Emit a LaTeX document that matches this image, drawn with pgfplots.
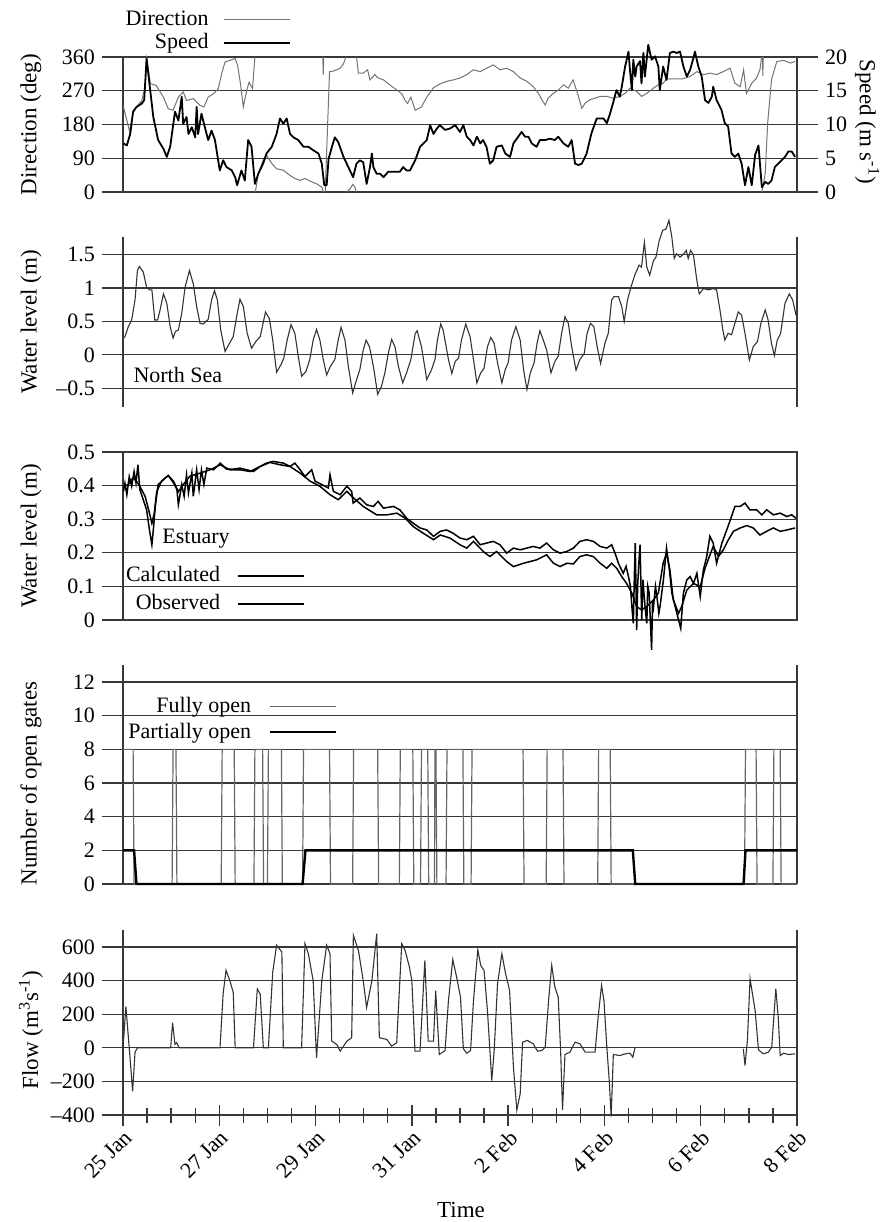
\documentclass[border=0pt]{standalone}
\usepackage{fontspec}
\setmainfont{Liberation Serif}
\usepackage{pgfplots}
\pgfplotsset{compat=1.18}

\definecolor{gridc}{gray}{0.22}
\newcommand{\tickfont}{\fontsize{11}{12.5}\selectfont}
\newcommand{\labfont}{\fontsize{11.5}{13}\selectfont}

\pgfplotsset{
  legend image code/.code={\draw[#1] (0pt,0pt) -- (33pt,0pt);},
  panel/.style={
    scale only axis, width=337pt,
    xmin=0, xmax=14, clip=false, no markers,
    axis line style={gridc, line width=0.65pt, -},
    ymajorgrids, grid style={gridc, line width=0.65pt},
    tick align=outside, ytick pos=left,
    major tick length=10.5pt,
    tick style={gridc, line width=0.65pt},
    tick label style={font=\tickfont},
    label style={font=\labfont},
    xtick=\empty,
    ylabel style={at={(axis description cs:-0.1365,0.5)}, anchor=center},
    legend plot pos=right,
    legend cell align=right,
    legend style={draw=none, fill=none, font=\tickfont, inner sep=0pt,
      nodes={inner sep=1pt, text height=1.6ex, text depth=0.3ex}},
  },
  dirline/.style={black!55, line width=0.5pt},
  speedline/.style={black, line width=0.9pt, line join=round},
  nsline/.style={black!80, line width=0.55pt},
  calcline/.style={black, line width=0.75pt},
  obsline/.style={black, line width=0.75pt},
  fullline/.style={black!60, line width=0.6pt},
  partline/.style={black, line width=1.2pt},
  flowline/.style={black!80, line width=0.55pt},
}

\begin{document}
\begin{tikzpicture}
\path[use as bounding box] (0,0) rectangle (442.5pt,-611pt);

% ---- wind direction and speed
\begin{axis}[panel, at={(61.5pt,-96pt)}, anchor=south west, height=67.5pt,
  ymin=0, ymax=360, ytick={0,90,180,270,360}, yticklabels={0,90,180,270,360},
  ylabel={Direction (deg)}, unbounded coords=jump]
\addplot[dirline] coordinates {
(0.01,227)(0.08,191)(0.14,160)(0.20,209)(0.28,227)(0.39,244)(0.46,280)(0.49,356)(0.57,289)(0.69,284)
(0.84,253)(0.94,222)(1.04,218)(1.15,253)(1.25,267)(1.32,244)(1.46,249)(1.60,231)(1.68,227)(1.77,253)
(1.88,262)(1.98,276)(2.05,316)(2.12,347)(2.22,351)(2.33,356)(2.38,338)(2.44,289)(2.50,227)(2.57,271)
(2.62,293)(2.69,276)(2.74,360)(2.745,nan)
(2.75,0)(2.81,49)(2.91,84)(2.98,98)(3.09,76)(3.19,62)(3.33,58)(3.47,44)(3.57,36)(3.68,31)(3.78,36)
(3.92,27)(4.02,22)(4.13,13)(4.16,0)(4.155,nan)
(4.15,360)(4.16,313)(4.17,360)(4.18,nan)
(4.20,0)(4.29,321)(4.33,321)(4.44,326)(4.51,330)(4.58,342)(4.63,360)(4.64,nan)
(4.65,0)(4.72,9)(4.77,20)(4.82,13)(4.84,0)(4.845,nan)
(4.85,360)(4.89,317)(4.99,317)(5.08,326)(5.13,299)(5.23,313)(5.30,304)(5.41,299)(5.55,285)(5.69,272)
(5.79,262)(5.86,244)(5.91,236)(5.98,253)(6.07,218)(6.20,227)(6.31,253)(6.45,278)(6.58,288)(6.72,295)
(6.86,299)(7.00,304)(7.14,313)(7.28,326)(7.42,321)(7.55,330)(7.69,339)(7.83,326)(7.97,330)(8.11,321)
(8.25,304)(8.39,295)(8.52,281)(8.63,263)(8.70,246)(8.77,232)(8.83,250)(8.94,263)(9.04,272)(9.15,286)
(9.25,277)(9.35,299)(9.46,255)(9.53,223)(9.60,237)(9.70,246)(9.80,250)(9.91,255)(10.05,255)(10.18,250)
(10.32,255)(10.43,263)(10.53,277)(10.67,268)(10.77,255)(10.88,263)(11.02,277)(11.12,286)(11.22,290)
(11.29,302)(11.64,302)(11.78,308)(11.92,321)(12.06,313)(12.19,317)(12.33,313)(12.47,321)(12.61,330)
(12.71,290)(12.82,281)(12.89,326)(12.95,263)(13.06,290)(13.16,304)(13.23,326)(13.265,360)(13.268,nan)
(13.285,360)(13.29,310)(13.30,360)(13.31,nan)
(13.27,0)(13.34,49)(13.39,183)(13.47,299)(13.58,348)(13.72,351)(13.86,344)(13.96,348)
};
\end{axis}
\begin{axis}[panel, at={(61.5pt,-96pt)}, anchor=south west, height=67.5pt,
  ymin=0, ymax=20, axis x line=none, axis y line*=right, ytick pos=right, ymajorgrids=false,
  ytick={0,5,10,15,20}, yticklabels={0,5,10,15,20},
  ylabel={Speed (m s\textsuperscript{-1})},
  ylabel style={at={(axis description cs:1.104,0.52)}, anchor=center, rotate=180},
  legend style={at={(axis description cs:0.249,1.19)}, anchor=east, column sep=6pt, row sep=0.8pt}]
\addlegendimage{dirline}
\addlegendentry{Direction}
\addplot[speedline] coordinates {
(0.01,7.2)(0.08,6.9)(0.15,8.6)(0.21,11.9)(0.28,12.6)(0.39,13.1)(0.44,13.6)(0.49,19.8)(0.55,16.0)(0.63,11.1)
(0.73,7.7)(0.84,6.4)(0.91,5.2)(0.98,6.7)(1.08,11.9)(1.15,10.6)(1.22,14.1)(1.25,10.1)(1.32,11.1)(1.36,8.6)
(1.43,9.6)(1.50,8.1)(1.53,12.6)(1.56,8.6)(1.63,11.6)(1.70,9.6)(1.77,7.7)(1.84,9.1)(1.91,7.7)(2.01,3.2)
(2.08,4.7)(2.15,3.7)(2.26,3.2)(2.33,2.2)(2.37,1.0)(2.46,3.2)(2.53,1.7)(2.60,7.7)(2.67,6.7)(2.74,1.2)
(2.81,2.7)(2.91,4.2)(2.98,5.7)(3.09,6.7)(3.19,8.6)(3.26,10.9)(3.33,10.1)(3.40,10.9)(3.47,8.6)(3.54,8.1)
(3.64,7.7)(3.75,6.7)(3.85,6.7)(3.95,6.2)(4.06,5.7)(4.13,4.2)(4.18,1.0)(4.23,1.0)(4.27,4.9)(4.34,6.7)
(4.40,8.1)(4.47,7.4)(4.58,5.2)(4.68,3.7)(4.78,2.2)(4.85,4.2)(4.92,4.7)(4.99,4.4)(5.06,1.2)(5.13,3.7)
(5.17,5.7)(5.20,3.7)(5.27,2.7)(5.34,2.7)(5.41,2.2)(5.51,3.0)(5.61,3.0)(5.75,3.0)(5.82,3.7)(5.89,3.2)
(5.96,3.2)(6.07,4.7)(6.17,6.7)(6.24,7.2)(6.31,7.7)(6.38,9.9)(6.45,8.6)(6.52,9.4)
(6.58,9.9)(6.69,9.2)(6.79,9.4)(6.90,9.9)(7.00,8.9)(7.07,9.9)(7.14,8.2)(7.21,7.7)(7.28,6.9)(7.35,8.2)
(7.42,7.2)(7.48,7.7)(7.55,6.7)(7.62,4.2)(7.69,4.7)(7.76,6.7)(7.87,6.9)(7.94,5.7)(8.04,5.2)(8.11,7.2)
(8.21,8.2)(8.28,8.9)(8.35,8.2)(8.42,8.2)(8.49,7.2)(8.59,6.7)(8.66,7.7)(8.77,7.7)(8.87,7.9)(8.97,7.7)
(9.04,8.2)(9.15,7.2)(9.25,6.7)(9.32,7.7)(9.39,4.2)(9.46,4.0)(9.53,4.2)(9.63,5.7)(9.73,8.7)(9.84,10.9)
(9.98,10.9)(10.05,10.2)(10.12,11.7)(10.18,13.2)(10.25,15.1)(10.32,14.1)(10.36,15.6)(10.43,18.6)(10.50,20.8)
(10.53,18.1)(10.57,15.1)(10.60,19.6)(10.64,17.1)(10.67,18.6)(10.74,19.4)(10.77,16.1)(10.81,20.6)(10.84,17.1)
(10.91,21.8)(10.98,19.6)(11.05,20.1)(11.12,18.6)(11.15,15.1)(11.22,18.6)(11.29,16.6)(11.36,20.6)(11.43,20.8)
(11.50,20.6)(11.57,20.8)(11.64,18.6)(11.71,17.1)(11.78,18.1)(11.85,19.9)(11.88,20.8)(11.95,18.6)(12.02,17.1)
(12.09,13.6)(12.16,13.2)(12.23,14.1)(12.26,15.6)(12.33,13.6)(12.43,12.2)(12.50,10.2)(12.57,9.7)(12.64,5.7)
(12.71,5.2)(12.78,5.7)(12.85,4.2)(12.92,1.0)(12.99,3.7)(13.06,1.0)(13.13,5.5)(13.20,6.9)(13.27,0.7)
(13.34,1.5)(13.40,1.2)(13.47,1.7)(13.54,3.7)(13.61,4.2)(13.68,4.7)(13.75,5.2)(13.82,6.0)(13.89,6.0)(13.96,5.2)
};
\addlegendentry{Speed}
\end{axis}

% ---- North Sea water level
\begin{axis}[panel, at={(61.5pt,-203.5pt)}, anchor=south west, height=85pt,
  ymin=-0.78, ymax=1.76, axis x line=none,
  ytick={-0.5,0,0.5,1,1.5}, yticklabels={–0.5,0,0.5,1,1.5},
  ylabel={Water level (m)}]
\addplot[nsline] coordinates {
(0.01,0.25)(0.04,0.27)(0.11,0.42)(0.18,0.52)(0.25,0.82)(0.30,1.26)(0.34,1.32)(0.42,1.24)(0.49,1.01)(0.55,0.97)
(0.60,0.97)(0.66,0.52)(0.72,0.52)(0.77,0.67)(0.84,0.91)(0.91,0.77)(0.98,0.42)(1.04,0.25)(1.09,0.35)(1.15,0.37)
(1.22,0.62)(1.29,1.01)(1.38,1.26)(1.46,1.06)(1.53,0.72)(1.60,0.47)(1.67,0.46)(1.77,0.53)(1.84,0.82)(1.90,0.96)
(1.96,0.82)(2.03,0.37)(2.12,0.05)(2.21,0.17)(2.29,0.27)(2.36,0.57)(2.43,0.83)(2.50,0.72)(2.58,0.32)(2.67,0.10)
(2.76,0.20)(2.85,0.27)(2.96,0.64)(3.04,0.54)(3.11,0.22)(3.19,-0.26)(3.28,-0.15)(3.34,-0.05)(3.41,0.22)(3.49,0.45)
(3.57,0.32)(3.64,-0.02)(3.71,-0.32)(3.80,-0.25)(3.88,-0.07)(3.95,0.22)(4.02,0.38)(4.09,0.22)(4.16,-0.07)(4.23,-0.30)
(4.31,-0.17)(4.40,-0.07)(4.47,0.22)(4.53,0.41)(4.61,0.22)(4.68,-0.17)(4.77,-0.57)(4.84,-0.40)(4.92,-0.22)(4.99,0.07)
(5.05,0.22)(5.12,0.12)(5.20,-0.17)(5.29,-0.59)(5.37,-0.47)(5.44,-0.27)(5.51,0.02)(5.58,0.23)(5.65,0.12)(5.72,-0.17)
(5.81,-0.42)(5.89,-0.27)(5.98,-0.07)(6.07,0.32)(6.11,0.36)(6.20,0.12)(6.31,-0.37)(6.41,-0.22)(6.48,-0.07)(6.53,0.22)
(6.60,0.46)(6.65,0.37)(6.76,-0.07)(6.83,-0.28)(6.90,-0.10)(6.97,-0.05)(7.03,0.22)(7.12,0.46)(7.21,0.27)(7.28,-0.07)
(7.35,-0.42)(7.43,-0.27)(7.50,-0.20)(7.57,0.12)(7.64,0.26)(7.71,0.17)(7.78,-0.12)(7.87,-0.42)(7.94,-0.22)(8.00,-0.12)
(8.07,0.22)(8.16,0.42)(8.25,0.22)(8.32,-0.22)(8.39,-0.52)(8.46,-0.27)(8.54,-0.12)(8.60,0.17)(8.66,0.36)(8.73,0.22)
(8.80,0.07)(8.89,-0.27)(8.97,-0.10)(9.04,-0.02)(9.11,0.32)(9.18,0.57)(9.25,0.47)(9.32,0.12)(9.41,-0.23)(9.49,-0.07)
(9.58,0.02)(9.64,0.32)(9.71,0.47)(9.78,0.42)(9.85,0.12)(9.92,-0.13)(10.01,0.17)(10.08,0.32)(10.15,0.82)(10.20,0.87)
(10.29,0.87)(10.36,0.72)(10.41,0.50)(10.48,0.82)(10.55,1.01)(10.63,1.19)(10.72,1.34)(10.77,1.31)(10.83,1.68)(10.88,1.31)
(10.94,1.19)(11.02,1.41)(11.07,1.46)(11.14,1.71)(11.21,1.86)(11.28,1.88)(11.34,2.01)(11.40,1.76)(11.45,1.44)(11.50,1.51)
(11.57,1.46)(11.64,1.50)(11.70,1.56)(11.74,1.44)(11.79,1.56)(11.85,1.49)(11.92,1.11)(11.97,0.91)(12.06,0.99)(12.16,0.97)
(12.26,0.99)(12.33,0.97)(12.40,0.67)(12.46,0.37)(12.50,0.22)(12.57,0.32)(12.64,0.30)(12.71,0.47)(12.78,0.64)(12.85,0.59)
(12.92,0.32)(13.01,-0.08)(13.09,0.12)(13.18,0.20)(13.25,0.47)(13.34,0.67)(13.40,0.52)(13.47,0.17)(13.53,-0.01)(13.59,0.22)
(13.66,0.32)(13.75,0.77)(13.84,0.91)(13.91,0.82)(13.98,0.59)
};
\node[anchor=west, inner sep=0pt, font=\tickfont] at (axis cs:0.21,-0.30) {North Sea};
\end{axis}

% ---- estuary water level
\begin{axis}[panel, at={(61.5pt,-310pt)}, anchor=south west, height=84pt,
  ymin=0, ymax=0.5, ytick={0,0.1,0.2,0.3,0.4,0.5}, yticklabels={0,0.1,0.2,0.3,0.4,0.5},
  ylabel={Water level (m)},
  legend style={at={(axis description cs:0.270,0.18)}, anchor=east, column sep=7.5pt, row sep=3.3pt}]
\addplot[calcline] coordinates {
(0.01,0.398)(0.11,0.403)(0.21,0.423)(0.28,0.413)(0.35,0.398)(0.46,0.368)(0.55,0.318)(0.60,0.288)(0.65,0.318)(0.70,0.382)
(0.80,0.413)(0.94,0.430)(1.05,0.413)(1.15,0.382)(1.25,0.403)(1.39,0.428)(1.60,0.437)(1.81,0.447)(2.02,0.462)(2.22,0.447)
(2.43,0.447)(2.64,0.442)(2.85,0.457)(3.05,0.469)(3.26,0.462)(3.47,0.457)(3.68,0.437)(3.89,0.413)(4.09,0.398)(4.30,0.373)
(4.47,0.358)(4.65,0.383)(4.79,0.363)(4.99,0.338)(5.27,0.313)(5.48,0.313)(5.69,0.318)(5.86,0.303)(6.03,0.278)(6.24,0.258)
(6.45,0.239)(6.59,0.253)(6.79,0.244)(7.00,0.224)(7.14,0.214)(7.28,0.234)(7.49,0.203)(7.62,0.189)(7.76,0.204)(7.97,0.174)
(8.11,0.159)(8.32,0.169)(8.59,0.179)(8.80,0.194)(8.94,0.169)(9.08,0.159)(9.22,0.169)(9.355,0.167)(9.49,0.189)(9.63,0.194)
(9.77,0.189)(9.91,0.169)(10.05,0.154)(10.15,0.169)(10.255,0.154)(10.36,0.129)(10.46,0.109)(10.57,0.080)(10.67,0.040)
(10.77,0.030)(10.88,0.040)(11.02,0.060)(11.12,0.080)(11.22,0.169)(11.29,0.199)(11.36,0.149)(11.43,0.060)(11.54,0.020)
(11.605,0.040)(11.71,0.089)(11.85,0.109)(11.99,0.099)(12.09,0.154)(12.18,0.189)(12.26,0.219)(12.37,0.189)(12.47,0.209)
(12.575,0.239)(12.68,0.264)(12.82,0.274)(12.96,0.281)(13.09,0.274)(13.23,0.253)(13.37,0.264)(13.51,0.274)(13.65,0.264)
(13.79,0.268)(13.96,0.274)
};
\addlegendentry{Calculated}
\addplot[obsline] coordinates {
(0.01,0.383)(0.04,0.407)(0.08,0.373)(0.13,0.427)(0.18,0.398)(0.23,0.442)(0.27,0.408)(0.31,0.462)(0.35,0.388)(0.42,0.358)
(0.49,0.328)(0.55,0.268)(0.60,0.224)(0.63,0.268)(0.67,0.338)(0.73,0.403)(0.84,0.418)(0.94,0.430)(1.05,0.408)(1.12,0.388)
(1.15,0.343)(1.22,0.403)(1.27,0.368)(1.32,0.432)(1.36,0.378)(1.43,0.437)(1.46,0.368)(1.53,0.447)(1.58,0.388)(1.63,0.447)
(1.68,0.403)(1.74,0.452)(1.88,0.447)(2.02,0.467)(2.15,0.449)(2.29,0.449)(2.43,0.452)(2.57,0.447)(2.71,0.442)(2.85,0.457)
(2.98,0.467)(3.12,0.472)(3.33,0.467)(3.47,0.457)(3.57,0.467)(3.68,0.447)(3.78,0.427)(3.92,0.447)(3.99,0.413)(4.13,0.403)
(4.265,0.393)(4.30,0.432)(4.37,0.383)(4.51,0.373)(4.65,0.398)(4.75,0.383)(4.78,0.348)(4.92,0.363)(5.06,0.343)(5.20,0.338)
(5.30,0.353)(5.41,0.333)(5.62,0.338)(5.75,0.328)(5.89,0.303)(6.03,0.288)(6.17,0.274)(6.31,0.268)(6.45,0.249)
(6.59,0.264)(6.72,0.268)(6.86,0.258)(7.00,0.244)(7.14,0.239)(7.28,0.249)(7.42,0.224)(7.55,0.229)(7.69,0.234)(7.83,0.224)
(7.97,0.199)(8.11,0.214)(8.25,0.209)(8.385,0.214)(8.52,0.219)(8.66,0.214)(8.80,0.229)(8.94,0.209)(9.08,0.199)(9.22,0.204)
(9.355,0.214)(9.49,0.234)(9.63,0.239)(9.77,0.234)(9.91,0.219)(10.05,0.214)(10.15,0.224)(10.22,0.199)(10.29,0.169)
(10.39,0.139)(10.45,0.160)(10.50,0.129)(10.54,0.100)(10.57,0.040)(10.60,-0.010)(10.62,0.120)(10.64,0.229)(10.67,-0.030)
(10.69,0.100)(10.71,0.159)(10.74,0.224)(10.775,0.000)(10.80,0.120)(10.82,0.080)(10.85,0.030)(10.88,-0.010)(10.90,0.100)
(10.93,0.080)(10.95,0.010)(10.98,-0.089)(11.00,0.060)(11.02,0.040)(11.06,0.100)(11.09,0.070)(11.13,0.020)(11.155,0.040)
(11.225,0.119)(11.29,0.214)(11.35,0.149)(11.40,0.080)(11.47,0.040)(11.54,0.000)(11.585,-0.025)(11.64,0.080)(11.71,0.119)
(11.78,0.129)(11.85,0.109)(11.92,0.139)(11.99,0.070)(12.055,0.149)(12.125,0.189)(12.19,0.249)(12.26,0.229)(12.33,0.169)
(12.44,0.229)(12.54,0.268)(12.64,0.308)(12.71,0.338)(12.82,0.338)(12.92,0.348)(13.02,0.328)(13.16,0.328)(13.27,0.313)
(13.37,0.328)(13.51,0.313)(13.65,0.318)(13.79,0.308)(13.89,0.313)(13.98,0.303)
};
\addlegendentry{Observed}
\node[anchor=west, inner sep=0pt, font=\tickfont] at (axis cs:0.81,0.241) {Estuary};
\end{axis}

% ---- gates
\begin{axis}[panel, at={(61.5pt,-442pt)}, anchor=south west, height=109.4pt,
  ymin=0, ymax=13, axis x line=none,
  ytick={0,2,4,6,8,10,12}, yticklabels={0,2,4,6,8,10,12},
  ylabel={Number of open gates}, ylabel style={at={(axis description cs:-0.1365,0.46)}},
  legend style={at={(axis description cs:0.319,0.752)}, anchor=east, column sep=8pt, row sep=2pt}]
\addplot[fullline] coordinates {
(0,8)(0.21,8)(0.23,0)(1.02,0)(1.04,8)(1.10,8)(1.12,0)(2.04,0)(2.06,8)(2.31,8)(2.33,0)(2.72,0)(2.74,8)(2.90,8)
(2.92,0)(3.00,0)(3.02,8)(3.29,8)(3.31,0)(3.73,0)(3.75,8)(4.29,8)(4.31,0)(4.77,0)(4.79,8)(5.29,8)(5.31,0)
(5.74,0)(5.76,8)(6.02,8)(6.04,0)(6.18,0)(6.20,8)(6.33,8)(6.35,0)(6.47,0)(6.48,8)(6.50,8)(6.52,0)(6.71,0)
(6.73,8)(7.06,8)(7.08,0)(7.23,0)(7.25,8)(8.31,8)(8.33,0)(8.79,0)(8.81,8)(9.14,8)(9.16,0)(9.86,0)(9.88,8)
(10.12,8)(10.14,0)(12.91,0)(12.93,8)(13.15,8)(13.17,0)(13.50,0)(13.52,8)(13.65,8)(13.67,0)(14,0)
};
\addlegendentry{Fully open}
\addplot[partline] coordinates {
(0,2)(0.23,2)(0.28,0)(3.73,0)(3.79,2)(10.59,2)(10.64,0)(12.89,0)(12.93,2)(14,2)
};
\addlegendentry{Partially open}
\end{axis}

% ---- flow
\begin{axis}[panel, at={(61.5pt,-557.5pt)}, anchor=south west, height=92.4pt,
  ymin=-400, ymax=700, axis x line=bottom,
  every outer x axis line/.append style={-}, every inner x axis line/.append style={-},
  x axis line style={-}, unbounded coords=jump,
  xtick={0,2,4,6,8,10,12,14},
  xticklabels={25 Jan,27 Jan,29 Jan,31 Jan,2 Feb,4 Feb,6 Feb,8 Feb},
  minor x tick num=3, minor tick length=7.5pt,
  xticklabel style={rotate=45, anchor=north east, inner sep=1pt},
  xlabel={Time}, xlabel style={at={(axis description cs:0.5015,-0.514)}, anchor=center},
  ytick={-400,-200,0,200,400,600}, yticklabels={–400,–200,0,200,400,600},
  ylabel={Flow (m\textsuperscript{3}s\textsuperscript{-1})},
  ylabel style={at={(axis description cs:-0.1365,0.46)}}]
\addplot[flowline] coordinates {
(0.00,0)(0.06,246)(0.145,-56)(0.20,-259)(0.25,-26)(0.30,0)(0.99,0)(1.03,149)(1.08,20)(1.115,30)(1.17,0)
(2.015,0)(2.08,322)(2.14,461)(2.22,400)(2.29,330)(2.33,0)(2.71,0)(2.79,350)(2.85,320)(2.915,0)(3.02,0)
(3.11,450)(3.19,610)(3.30,570)(3.33,0)(3.71,0)(3.78,620)(3.85,560)(3.95,400)(4.02,-60)(4.13,400)(4.23,610)
(4.30,560)(4.335,40)(4.44,20)(4.51,-20)(4.65,40)(4.75,60)(4.785,670)(4.89,580)(4.99,400)(5.06,240)(5.17,400)
(5.27,680)(5.325,60)(5.48,50)(5.58,10)(5.685,30)(5.79,620)(5.86,580)(5.95,480)(6.00,400)(6.065,-20)(6.17,-20)
(6.27,520)(6.34,40)(6.45,40)(6.495,340)(6.57,-40)(6.69,-16)(6.76,282)(6.85,525)(6.93,421)(7.01,302)(7.07,-6)
(7.14,-32)(7.22,-16)(7.28,282)(7.37,584)(7.43,491)(7.50,461)(7.57,222)(7.66,-195)(7.71,-16)(7.78,382)(7.87,560)
(7.94,451)(8.03,342)(8.11,-115)(8.18,-370)(8.25,-274)(8.30,34)(8.40,44)(8.52,24)(8.61,-20)(8.70,-16)(8.77,4)
(8.84,282)(8.905,491)(8.97,362)(9.04,302)(9.09,-16)(9.13,-370)(9.18,-40)(9.285,-26)(9.39,34)(9.49,24)(9.60,-26)
(9.805,-26)(9.87,183)(9.94,372)(9.99,282)(10.05,4)(10.10,-195)(10.14,-409)(10.185,-40)(10.325,-46)(10.43,-36)
(10.53,-32)(10.59,-56)(10.635,0)(10.7,nan)
(12.885,-6)(12.92,-105)(12.97,44)(13.025,411)(13.13,222)(13.20,-12)(13.30,-36)(13.405,-26)(13.475,4)(13.56,352)
(13.61,183)(13.65,-46)(13.72,-32)(13.82,-40)(13.96,-36)
};
\end{axis}
\end{tikzpicture}
\end{document}
